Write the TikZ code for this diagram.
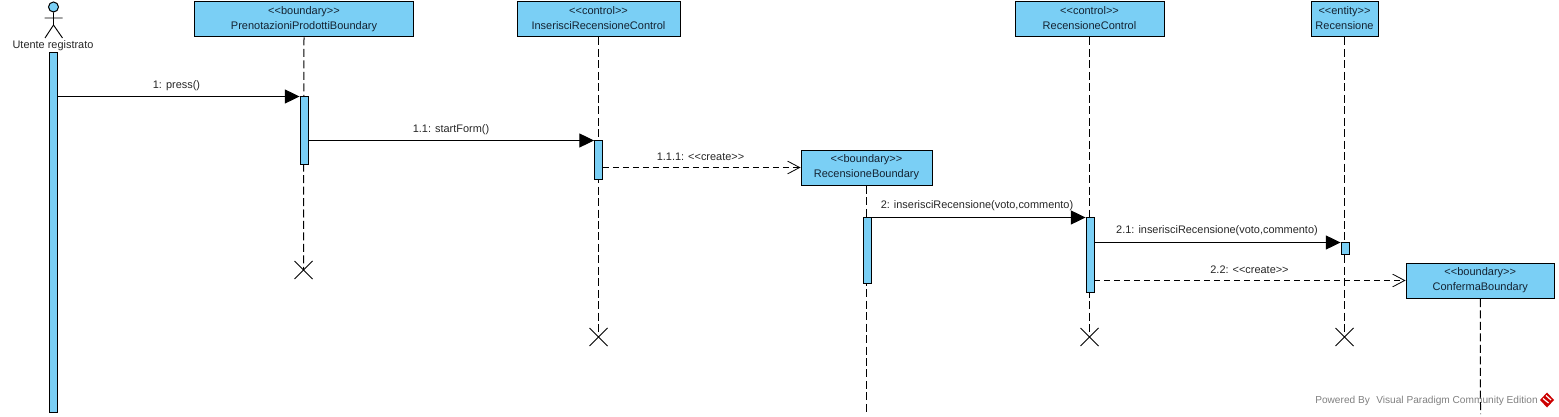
\documentclass[tikz,border=0pt]{standalone}
\usepackage{fontspec}
\setmainfont{Liberation Sans}
\usetikzlibrary{arrows.meta,positioning}
\definecolor{vpblue}{RGB}{122,207,245}
\definecolor{vptext}{RGB}{20,35,50}
\tikzset{
  obj/.style={draw=black,fill=vpblue,line width=0.75pt,inner sep=0pt,align=center,font=\fontsize{8.25}{11.25}\selectfont,text=vptext,minimum height=35*0.75pt,text depth=2.6pt},
  act/.style={draw=black,fill=vpblue,line width=0.7pt,inner sep=0pt,minimum width=8*0.75pt},
  life/.style={line width=0.75pt,dash pattern=on 6pt off 2.6pt},
  sync/.style={line width=0.75pt,-{Triangle[length=11pt,width=10.5pt,fill=black]}},
  creat/.style={line width=0.75pt,dash pattern=on 4.5pt off 3pt,-{Straight Barb[length=9pt,width=9.5pt,line width=0.6pt]}},
  lbl/.style={font=\fontsize{8.2}{10}\selectfont,text=black!85,inner sep=0pt},
  xmark/.style={line width=0.75pt},
  wm/.style={font=\fontsize{7.6}{9}\selectfont,text=black!50,inner sep=0pt,anchor=west}
}
\begin{document}
\begin{tikzpicture}[x=0.75pt,y=-0.75pt]
\useasboundingbox (0,0) rectangle (1559,417);
% boxes
\node[obj,minimum width=219*0.75pt] (pren) at (304,19.5) {<{}<boundary>{}>\\PrenotazioniProdottiBoundary};
\node[obj,minimum width=163*0.75pt] (insc) at (598.5,19.5) {<{}<control>{}>\\InserisciRecensioneControl};
\node[obj,minimum width=131*0.75pt] (recb) at (866.5,168) {<{}<boundary>{}>\\RecensioneBoundary};
\node[obj,minimum width=149*0.75pt] (recc) at (1089.5,19.5) {<{}<control>{}>\\RecensioneControl};
\node[obj,minimum width=67*0.75pt] (ent) at (1344.5,19.5) {<{}<entity>{}>\\Recensione};
\node[obj,minimum width=148.5*0.75pt] (conf) at (1480.25,281) {<{}<boundary>{}>\\ConfermaBoundary};
% actor
\node[draw=black,fill=vpblue,circle,line width=0.75pt,minimum size=10*0.75pt,inner sep=0pt] (head) at (53.5,7) {};
\coordinate (hip) at (53.5,25);
\coordinate (armL) at (44.5,18);
\coordinate (armR) at (62.5,18);
\coordinate (legL) at (45,38);
\coordinate (legR) at (62.5,38);
\draw[line width=0.7pt] (head.south) -- (hip) (armL) -- (armR) (legL) -- (hip) -- (legR);
\node[lbl] (user) at (53,45.5) {Utente registrato};
% X marks
\node[inner sep=0pt,minimum size=0pt] (x1) at (303.5,270) {};
\node[inner sep=0pt,minimum size=0pt] (x2) at (598.5,337) {};
\node[inner sep=0pt,minimum size=0pt] (x3) at (1089.5,337) {};
\node[inner sep=0pt,minimum size=0pt] (x4) at (1344.5,337) {};
\coordinate (e5) at (866.5,414);
\coordinate (e6) at (1480.5,414);
% lifelines
\draw[life] (pren.south) -- (x1);
\draw[life] (insc.south) -- (x2);
\draw[life] (recc.south) -- (x3);
\draw[life] (ent.south) -- (x4);
\draw[life] (recb.south) -- (e5);
\draw[life] (conf.south) -- (e6);
\foreach \n in {x1,x2,x3,x4}{
  \draw[xmark] ([shift={(-9,-9)}]\n.center) -- ([shift={(9,9)}]\n.center);
  \draw[xmark] ([shift={(-9,9)}]\n.center) -- ([shift={(9,-9)}]\n.center);
}
% activations
\node[act,minimum height=360*0.75pt] (a0) at (53.5,232) {};
\node[act,minimum height=68*0.75pt] (a1) at (304,130) {};
\node[act,minimum height=39*0.75pt] (a2) at (598.5,159.5) {};
\node[act,minimum height=65.5*0.75pt] (a3) at (867.5,250.25) {};
\node[act,minimum height=74.5*0.75pt] (a4) at (1090,254.75) {};
\node[act,minimum height=12*0.75pt] (a5) at (1345,248) {};
% message rows
\coordinate (m1) at (0,96.5);
\coordinate (m2) at (0,140.5);
\coordinate (m3) at (0,167.5);
\coordinate (m4) at (0,217.5);
\coordinate (m5) at (0,242.5);
\coordinate (m6) at (0,280.5);
\draw[sync] (a0.east |- m1) -- (a1.west |- m1);
\draw[sync] (a1.east |- m2) -- (a2.west |- m2);
\draw[creat] (a2.east |- m3) -- (recb.west |- m3);
\draw[sync] (a3.east |- m4) -- (a4.west |- m4);
\draw[sync] (a4.east |- m5) -- (a5.west |- m5);
\draw[creat] (a4.east |- m6) -- (conf.west |- m6);
% labels
\node[lbl] (l1) at (176.5,85.5) {1: press()};
\node[lbl] (l2) at (451,129.5) {1.1: startForm()};
\node[lbl] (l3) at (700.5,156.5) {1.1.1: <{}<create>{}>};
\node[lbl] (l4) at (977,206) {2: inserisciRecensione(voto,commento)};
\node[lbl] (l5) at (1217,230.5) {2.1: inserisciRecensione(voto,commento)};
\node[lbl] (l6) at (1249.5,269.5) {2.2: <{}<create>{}>};
% watermark
\node[wm] (wm1) at (1315,400.5) {Powered By};
\node[wm] (wm2) at (1376,400.5) {Visual Paradigm Community Edition};
\fill[red!80!black] (1547,392.5) -- (1554,400) -- (1547,407.5) -- (1540,400) -- cycle;
\draw[white,line width=0.9pt] (1543,398.5) -- (1548.5,403) (1546,395.5) -- (1551,400);
\end{tikzpicture}
\end{document}
